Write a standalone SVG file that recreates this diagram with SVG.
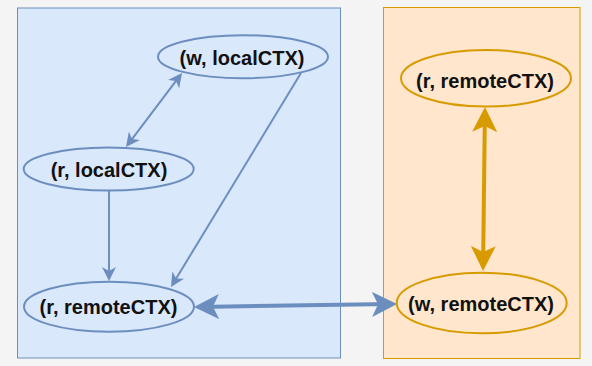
<svg xmlns="http://www.w3.org/2000/svg" width="592" height="366" viewBox="0 0 592 366">
<style>
.bg{fill:#f4f4f4}
.blue{fill:#dae8fc;stroke:#6c8ebf;stroke-width:1}
.orange{fill:#ffe6cc;stroke:#d79b00;stroke-width:1}
.nb{fill:#dae8fc;stroke:#6c8ebf;stroke-width:2}
.no{fill:#ffe6cc;stroke:#d79b00;stroke-width:2}
text{font-family:"Liberation Sans",Arial,sans-serif;font-weight:bold;font-size:20px;fill:#111;text-anchor:middle}
.thin{stroke:#6c8ebf;stroke-width:2;fill:none}
.thickb{stroke:#6c8ebf;stroke-width:4;fill:none}
.thicko{stroke:#d79b00;stroke-width:4;fill:none}
</style>
<defs>
<marker id="ah" viewBox="0 0 14 14" refX="10" refY="7" markerWidth="14" markerHeight="14" markerUnits="userSpaceOnUse" orient="auto-start-reverse"><path d="M0,0 L14,7 L0,14 L4,7 Z" fill="#6c8ebf"/></marker>
<marker id="ahb" viewBox="0 0 25 25" refX="19" refY="12.5" markerWidth="25" markerHeight="25" markerUnits="userSpaceOnUse" orient="auto-start-reverse"><path d="M0,0 L25,12.5 L0,25 L6,12.5 Z" fill="#6c8ebf"/></marker>
<marker id="aho" viewBox="0 0 25 25" refX="19" refY="12.5" markerWidth="25" markerHeight="25" markerUnits="userSpaceOnUse" orient="auto-start-reverse"><path d="M0,0 L25,12.5 L0,25 L6,12.5 Z" fill="#d79b00"/></marker>
</defs>
<rect class="bg" x="0" y="0" width="592" height="366"/>
<g id="local-container"><rect class="blue" x="17.5" y="8" width="323" height="350"/></g>
<g id="remote-container"><rect class="orange" x="383.5" y="7.5" width="196.5" height="351"/></g>
<g id="connectors">
<line class="thin" x1="109" y1="191" x2="109" y2="277" marker-end="url(#ah)"/>
<line class="thin" x1="301" y1="73" x2="173.1" y2="283.6" marker-end="url(#ah)"/>
<line class="thin" x1="128.4" y1="143.8" x2="179.6" y2="76.2" marker-start="url(#ah)" marker-end="url(#ah)"/>
<line class="thickb" x1="200" y1="306.9" x2="391" y2="304.1" marker-start="url(#ahb)" marker-end="url(#ahb)"/>
<line class="thicko" x1="484.9" y1="113" x2="483.1" y2="265" marker-start="url(#aho)" marker-end="url(#aho)"/>
</g>
<g id="w-localCTX"><ellipse class="nb" cx="243" cy="56.7" rx="85" ry="21.5"/><text x="242" y="65">(w, localCTX)</text></g>
<g id="r-localCTX"><ellipse class="nb" cx="108.7" cy="169" rx="85" ry="21.5"/><text x="109" y="176.5">(r, localCTX)</text></g>
<g id="r-remoteCTX-local"><ellipse class="nb" cx="109" cy="306.7" rx="85" ry="25"/><text x="108.5" y="314">(r, remoteCTX)</text></g>
<g id="r-remoteCTX-remote"><ellipse class="no" cx="486" cy="78.3" rx="85" ry="28.3"/><text x="485" y="87.5">(r, remoteCTX)</text></g>
<g id="w-remoteCTX"><ellipse class="no" cx="481.7" cy="303" rx="85" ry="30.3"/><text x="481" y="311">(w, remoteCTX)</text></g>
</svg>
